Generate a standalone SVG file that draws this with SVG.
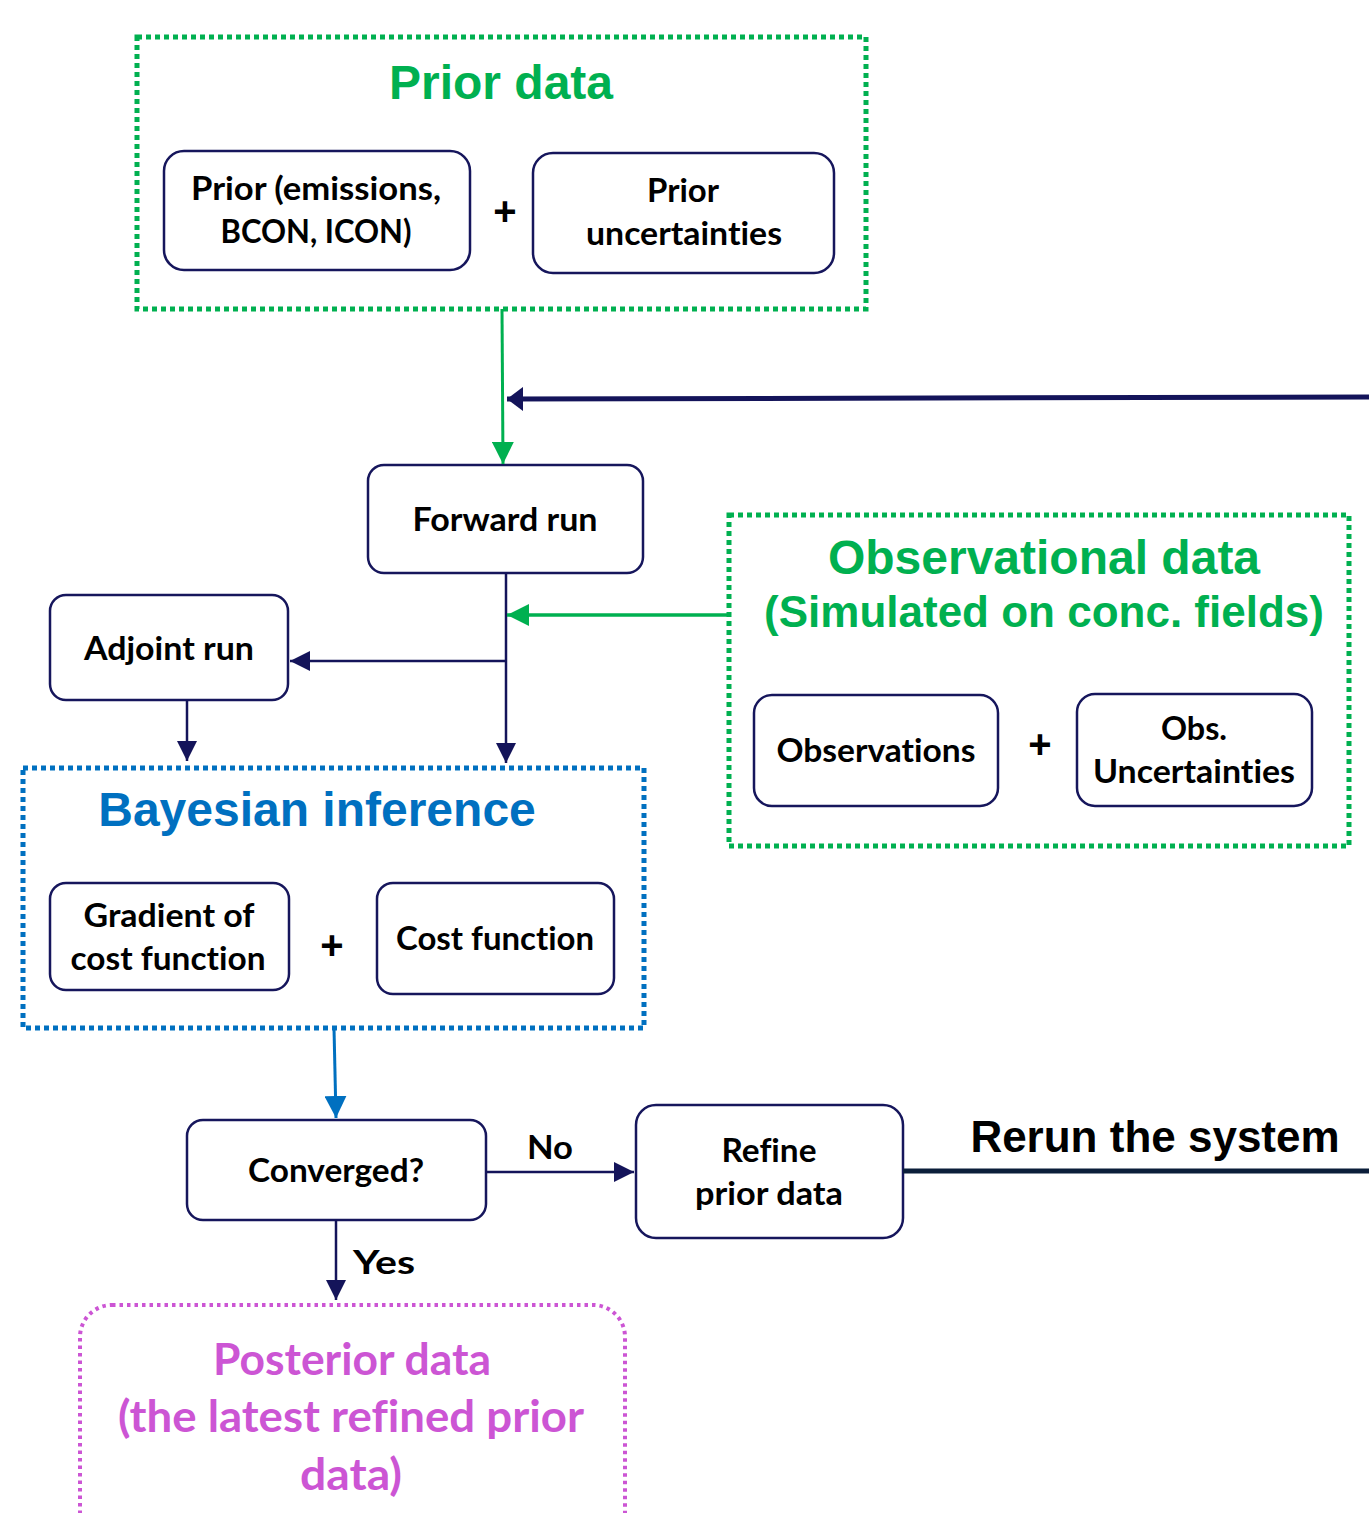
<svg xmlns="http://www.w3.org/2000/svg" width="1369" height="1513" viewBox="0 0 1369 1513">
<style>
.node{fill:#fff;stroke:#16165C;stroke-width:2.5}
.t{font-family:Lato,"Open Sans","DejaVu Sans",sans-serif;font-weight:700;font-size:32px;fill:#000;text-anchor:middle;font-variant-ligatures:none}
.p{font-family:Lato,"Open Sans","DejaVu Sans",sans-serif;font-weight:700;font-size:44px;fill:#CC55D4;text-anchor:middle;font-variant-ligatures:none}
.h{font-family:"Liberation Sans",Arial,sans-serif;font-weight:700;text-anchor:middle}
.plus{font-family:"Liberation Sans",Arial,sans-serif;font-weight:700;font-size:40px;fill:#000;text-anchor:middle}
.grp{fill:none;stroke-width:5;stroke-dasharray:5 4}
.nv{stroke:#14145A;stroke-width:2.5;fill:none}
</style>
<defs>
<marker id="an" markerUnits="userSpaceOnUse" viewBox="0 0 20 20" markerWidth="20" markerHeight="20" refX="20" refY="10" orient="auto"><path d="M0,0 L20,10 L0,20 Z" fill="#14145A"/></marker>
<marker id="ant" markerUnits="userSpaceOnUse" viewBox="0 0 16 24" markerWidth="16" markerHeight="24" refX="16" refY="12" orient="auto"><path d="M0,0 L16,12 L0,24 Z" fill="#14145A"/></marker>
<marker id="ag" markerUnits="userSpaceOnUse" viewBox="0 0 22 22" markerWidth="22" markerHeight="22" refX="22" refY="11" orient="auto"><path d="M0,0 L22,11 L0,22 Z" fill="#00B050"/></marker>
<marker id="ab" markerUnits="userSpaceOnUse" viewBox="0 0 22 22" markerWidth="22" markerHeight="22" refX="22" refY="11" orient="auto"><path d="M0,0 L22,11 L0,22 Z" fill="#0070C0"/></marker>
</defs>

<g id="prior-data-group">
<rect class="grp" x="137" y="37" width="729" height="272" stroke="#00B050"/>
<text class="h" x="501" y="99" font-size="48" fill="#00B050">Prior data</text>
</g>
<g id="prior-emissions">
<rect class="node" x="164" y="151" width="306" height="119" rx="20"/>
<text class="t" x="316" y="200" textLength="250" lengthAdjust="spacingAndGlyphs">Prior (emissions,</text>
<text class="t" x="316" y="243" textLength="191" lengthAdjust="spacingAndGlyphs">BCON, ICON)</text>
</g>
<text class="plus" x="505" y="225">+</text>
<g id="prior-uncertainties">
<rect class="node" x="533" y="153" width="301" height="120" rx="20"/>
<text class="t" x="683" y="202" textLength="72" lengthAdjust="spacingAndGlyphs">Prior</text>
<text class="t" x="684" y="245" textLength="196" lengthAdjust="spacingAndGlyphs">uncertainties</text>
</g>

<g id="forward-run">
<rect class="node" x="368" y="465" width="275" height="108" rx="16"/>
<text class="t" x="505" y="531" textLength="185" lengthAdjust="spacingAndGlyphs">Forward run</text>
</g>

<g id="adjoint-run">
<rect class="node" x="50" y="595" width="238" height="105" rx="16"/>
<text class="t" x="169" y="660" textLength="170" lengthAdjust="spacingAndGlyphs">Adjoint run</text>
</g>

<g id="observational-data-group">
<rect class="grp" x="729" y="515" width="620" height="331" stroke="#00B050"/>
<text class="h" x="1044" y="574" font-size="48" fill="#00B050">Observational data</text>
<text class="h" x="1044" y="627" font-size="44" fill="#00B050">(Simulated on conc. fields)</text>
</g>
<g id="observations">
<rect class="node" x="754" y="695" width="244" height="111" rx="18"/>
<text class="t" x="876" y="762" textLength="199" lengthAdjust="spacingAndGlyphs">Observations</text>
</g>
<text class="plus" x="1040" y="758">+</text>
<g id="obs-uncertainties">
<rect class="node" x="1077" y="694" width="235" height="112" rx="18"/>
<text class="t" x="1194" y="740" textLength="66" lengthAdjust="spacingAndGlyphs">Obs.</text>
<text class="t" x="1194" y="783" textLength="202" lengthAdjust="spacingAndGlyphs">Uncertainties</text>
</g>

<g id="bayesian-inference-group">
<rect class="grp" x="23" y="768" width="621" height="260" stroke="#0070C0"/>
<text class="h" x="317" y="826" font-size="48" fill="#0070C0">Bayesian inference</text>
</g>
<g id="gradient">
<rect class="node" x="50" y="883" width="239" height="107" rx="16"/>
<text class="t" x="169" y="927" textLength="171" lengthAdjust="spacingAndGlyphs">Gradient of</text>
<text class="t" x="168" y="970" textLength="195" lengthAdjust="spacingAndGlyphs">cost function</text>
</g>
<text class="plus" x="332" y="959">+</text>
<g id="cost-function">
<rect class="node" x="377" y="883" width="237" height="111" rx="16"/>
<text class="t" x="495" y="950" textLength="198" lengthAdjust="spacingAndGlyphs">Cost function</text>
</g>

<g id="converged">
<rect class="node" x="187" y="1120" width="299" height="100" rx="16"/>
<text class="t" x="336" y="1182" textLength="176" lengthAdjust="spacingAndGlyphs">Converged?</text>
</g>

<g id="refine">
<rect class="node" x="636" y="1105" width="267" height="133" rx="20"/>
<text class="t" x="769" y="1162" textLength="95" lengthAdjust="spacingAndGlyphs">Refine</text>
<text class="t" x="769" y="1205" textLength="148" lengthAdjust="spacingAndGlyphs">prior data</text>
</g>

<g id="posterior-data">
<rect x="80" y="1305" width="545" height="260" rx="32" fill="none" stroke="#CC55D4" stroke-width="4" stroke-dasharray="3.5 4"/>
<text class="p" x="352" y="1375" textLength="278" lengthAdjust="spacingAndGlyphs">Posterior data</text>
<text class="p" x="351" y="1432" textLength="466" lengthAdjust="spacingAndGlyphs">(the latest refined prior</text>
<text class="p" x="351" y="1490" textLength="102" lengthAdjust="spacingAndGlyphs">data)</text>
</g>

<g id="connectors">
<line x1="502" y1="309" x2="503" y2="464" stroke="#00B050" stroke-width="3" marker-end="url(#ag)"/>
<line x1="1369" y1="397" x2="507" y2="399" stroke="#14145A" stroke-width="5" marker-end="url(#ant)"/>
<line x1="506" y1="573" x2="506" y2="763" class="nv" marker-end="url(#an)"/>
<line x1="728" y1="615" x2="507" y2="615" stroke="#00B050" stroke-width="3.5" marker-end="url(#ag)"/>
<line x1="506" y1="661" x2="290" y2="661" class="nv" marker-end="url(#an)"/>
<line x1="187" y1="700" x2="187" y2="761" class="nv" marker-end="url(#an)"/>
<line x1="334" y1="1028" x2="336" y2="1118" stroke="#0070C0" stroke-width="3" marker-end="url(#ab)"/>
<line x1="486" y1="1172" x2="634" y2="1172" class="nv" marker-end="url(#an)"/>
<line x1="336" y1="1220" x2="336" y2="1300" class="nv" marker-end="url(#an)"/>
<line x1="903" y1="1171" x2="1369" y2="1171" stroke="#0B1E3A" stroke-width="5"/>
<text class="t" x="550" y="1159" textLength="46" lengthAdjust="spacingAndGlyphs">No</text>
<text class="t" x="384" y="1274" textLength="62" lengthAdjust="spacingAndGlyphs">Yes</text>
<text class="h" x="1155" y="1152" font-size="44" fill="#000">Rerun the system</text>
</g>
</svg>
